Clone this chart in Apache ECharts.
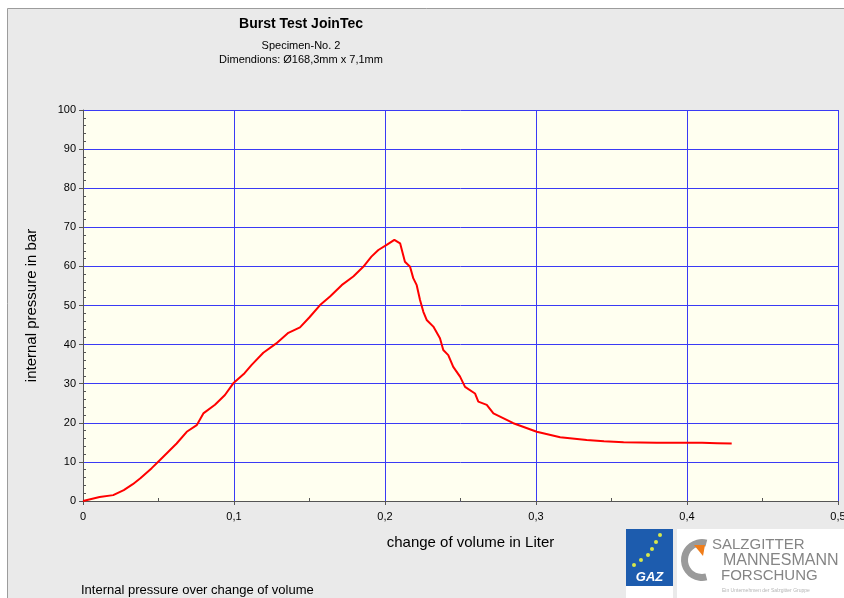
<!DOCTYPE html>
<html>
<head>
<meta charset="utf-8">
<script src="https://cdn.jsdelivr.net/npm/echarts@6/dist/echarts.min.js"></script>
<style>html,body{margin:0;padding:0;background:#fff;overflow:hidden}#c{width:844px;height:598px}</style>
</head>
<body>
<div id="c"></div>
<script>
var volume = [0, 0.011, 0.020, 0.027, 0.033, 0.038, 0.0455, 0.051, 0.0565, 0.062, 0.0687, 0.0753, 0.0797, 0.0874, 0.094, 0.0995, 0.107, 0.1117, 0.1194, 0.128, 0.136, 0.1437, 0.150, 0.157, 0.1636, 0.1713, 0.179, 0.1856, 0.191, 0.1956, 0.2011, 0.2062, 0.21, 0.2132, 0.2166, 0.2187, 0.221, 0.2232, 0.2254, 0.2276, 0.232, 0.2364, 0.2386, 0.2419, 0.2452, 0.2497, 0.253, 0.2596, 0.2618, 0.2674, 0.2718, 0.285, 0.3005, 0.316, 0.3336, 0.345, 0.358, 0.380, 0.3998, 0.41, 0.42, 0.4296];
var pressure = [0, 1.0, 1.5, 2.8, 4.3, 5.8, 8.4, 10.5, 12.6, 14.7, 17.7, 19.4, 22.4, 24.6, 27.1, 30.1, 32.7, 34.8, 37.9, 40.3, 43.0, 44.4, 47.0, 50.1, 52.3, 55.2, 57.4, 59.9, 62.5, 64.2, 65.5, 66.8, 65.9, 61.2, 59.9, 57.0, 55.2, 51.4, 48.4, 46.3, 44.6, 41.6, 38.6, 37.3, 34.3, 31.8, 29.2, 27.5, 25.4, 24.6, 22.4, 19.9, 17.7, 16.3, 15.6, 15.3, 15.0, 14.9, 14.9, 14.9, 14.8, 14.7];
var xTicks = [0, 0.1, 0.2, 0.3, 0.4, 0.5];
var yTicks = [0, 10, 20, 30, 40, 50, 60, 70, 80, 90, 100];

var titleText = 'Burst Test JoinTec';
var subLine1 = 'Specimen-No. 2';
var subLine2 = 'Dimendions: Ø168,3mm x 7,1mm';
var xName = 'change of volume in Liter';
var yName = 'internal pressure in bar';
var caption = 'Internal pressure over change of volume';

var FONT = '"Liberation Sans", Arial, sans-serif';
var data = volume.map(function (v, i) { return [v, pressure[i]]; });
var fmtX = function (v) { return String(Math.round(v * 10) / 10).replace('.', ','); };

var chart = echarts.init(document.getElementById('c'), null, { width: 844, height: 598 });
var gazDots = [[660, 535], [656, 542], [652, 549], [648, 555], [641, 560], [634, 565]];

var graphics = [
  { type: 'rect', z: -100, shape: { x: 7.5, y: 8.5, width: 900, height: 700 }, style: { fill: '#eaeaea', stroke: '#9c9c9c', lineWidth: 1 } },
  { type: 'text', x: 301, y: 24, style: { text: titleText, font: 'bold 14px ' + FONT, fill: '#000', textAlign: 'center', textVerticalAlign: 'middle' } },
  { type: 'text', x: 301, y: 46, style: { text: subLine1, font: '11px ' + FONT, fill: '#000', textAlign: 'center', textVerticalAlign: 'middle' } },
  { type: 'text', x: 301, y: 60, style: { text: subLine2, font: '11px ' + FONT, fill: '#000', textAlign: 'center', textVerticalAlign: 'middle' } },
  { type: 'text', x: 81, y: 590, style: { text: caption, font: '13px ' + FONT, fill: '#000', textAlign: 'left', textVerticalAlign: 'middle' } },
  // GAZ logo
  { type: 'rect', z: 10, shape: { x: 626, y: 529, width: 47, height: 57 }, style: { fill: '#1d5cae' } },
  { type: 'rect', z: 10, shape: { x: 626, y: 586, width: 47, height: 12 }, style: { fill: '#ffffff' } },
  { type: 'text', z: 11, x: 649.5, y: 577, style: { text: 'GAZ', font: 'italic bold 13px ' + FONT, fill: '#ffffff', textAlign: 'center', textVerticalAlign: 'middle' } },
  // SMF logo
  { type: 'rect', z: 10, shape: { x: 677, y: 529, width: 167, height: 69 }, style: { fill: '#ffffff' } },
  { type: 'sector', z: 11, shape: { cx: 702, cy: 560, r: 21, r0: 14, startAngle: Math.PI * 0.42, endAngle: Math.PI * 1.58, clockwise: true }, style: { fill: '#9a9a9a' } },
  { type: 'polygon', z: 12, shape: { points: [[694, 545], [705, 545], [703, 556]] }, style: { fill: '#f07d1a' } },
  { type: 'text', z: 11, x: 712, y: 545, style: { text: 'SALZGITTER', font: '15px ' + FONT, fill: '#858585', textAlign: 'left', textVerticalAlign: 'middle' } },
  { type: 'text', z: 11, x: 723, y: 561, style: { text: 'MANNESMANN', font: '16px ' + FONT, fill: '#858585', textAlign: 'left', textVerticalAlign: 'middle' } },
  { type: 'text', z: 11, x: 721, y: 576, style: { text: 'FORSCHUNG', font: '15px ' + FONT, fill: '#858585', textAlign: 'left', textVerticalAlign: 'middle' } },
  { type: 'text', z: 11, x: 722, y: 591, style: { text: 'Ein Unternehmen der Salzgitter Gruppe', font: '5px ' + FONT, fill: '#b5b5b5', textAlign: 'left', textVerticalAlign: 'middle' } }
];
gazDots.forEach(function (p) {
  graphics.push({ type: 'circle', z: 11, shape: { cx: p[0], cy: p[1], r: 2 }, style: { fill: '#d8e84a' } });
});

var tickColor = '#555';
chart.setOption({
  animation: false,
  backgroundColor: '#ffffff',
  textStyle: { fontFamily: FONT },
  grid: { left: 83, top: 110, width: 755, height: 391, show: true, backgroundColor: '#fffff0', borderWidth: 0, containLabel: false, outerBoundsMode: 'none' },
  xAxis: [{
    type: 'value', min: xTicks[0], max: xTicks[xTicks.length - 1], interval: 0.1,
    name: xName, nameLocation: 'middle', nameGap: 34,
    nameTextStyle: { fontSize: 15, color: '#000', fontFamily: FONT, padding: [0, 0, 0, 20] },
    axisLine: { show: true, lineStyle: { color: tickColor, width: 1 } },
    axisTick: { show: true, length: 4, lineStyle: { color: tickColor } },
    axisLabel: { formatter: fmtX, fontSize: 11, color: '#000', margin: 10, showMaxLabel: true, fontFamily: FONT },
    splitLine: { show: true, lineStyle: { color: '#3a3af5', width: 1 } },
    minorTick: { show: false }
  }, {
    type: 'value', min: xTicks[0], max: xTicks[xTicks.length - 1], interval: 0.1, position: 'bottom',
    axisLine: { show: false }, axisLabel: { show: false }, splitLine: { show: false },
    axisTick: { show: false, inside: true },
    minorTick: { show: true, splitNumber: 2, length: 3, lineStyle: { color: tickColor } }
  }],
  yAxis: [{
    type: 'value', min: yTicks[0], max: yTicks[yTicks.length - 1], interval: 10,
    name: yName, nameLocation: 'middle', nameGap: 44,
    nameTextStyle: { fontSize: 15, color: '#000', fontFamily: FONT },
    axisLine: { show: true, lineStyle: { color: tickColor, width: 1 } },
    axisTick: { show: true, length: 4, lineStyle: { color: tickColor } },
    axisLabel: { fontSize: 11, color: '#000', margin: 7, fontFamily: FONT },
    splitLine: { show: true, lineStyle: { color: '#3a3af5', width: 1 } },
    minorTick: { show: false }
  }, {
    type: 'value', min: yTicks[0], max: yTicks[yTicks.length - 1], interval: 10, position: 'left',
    axisLine: { show: false }, axisLabel: { show: false }, splitLine: { show: false },
    axisTick: { show: false, inside: true },
    minorTick: { show: true, splitNumber: 5, length: 3, lineStyle: { color: tickColor } }
  }],
  series: [{
    type: 'line', xAxisIndex: 0, yAxisIndex: 0, data: data, showSymbol: false, symbol: 'none',
    lineStyle: { color: '#ff0000', width: 2 }, z: 5
  }],
  graphic: graphics
});
</script>
</body>
</html>
